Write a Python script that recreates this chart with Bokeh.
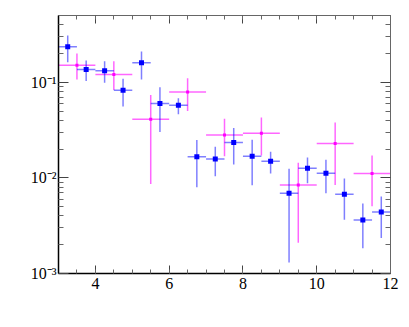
from bokeh.plotting import figure
from bokeh.models import (LogAxis, LinearAxis, SingleIntervalTicker, FixedTicker,
                          ColumnDataSource, Range1d)
from bokeh.embed import file_html
from bokeh.resources import INLINE

# Blue series (x half-width 0.25)
blue_x = [3.25, 3.75, 4.25, 4.75, 5.25, 5.75, 6.25, 6.75, 7.25, 7.75, 8.25, 8.75,
          9.25, 9.75, 10.25, 10.75, 11.25, 11.75]
blue_y = [0.235, 0.136, 0.132, 0.0826, 0.160, 0.0599, 0.0575, 0.0166, 0.0158, 0.0235,
          0.0168, 0.0149, 0.00692, 0.0126, 0.0112, 0.00675, 0.00363, 0.00439]
blue_hi = [0.309, 0.169, 0.166, 0.109, 0.210, 0.0887, 0.068, 0.0249, 0.0212, 0.0332,
           0.0251, 0.0188, 0.0125, 0.0163, 0.0155, 0.00984, 0.0054, 0.00638]
blue_lo = [0.162, 0.103, 0.099, 0.0557, 0.107, 0.0303, 0.0464, 0.00798, 0.0104, 0.0138,
           0.00838, 0.0111, 0.0013, 0.00879, 0.00692, 0.00365, 0.00184, 0.00235]
blue_xerr = 0.25

# Magenta series (x half-width 0.5)
mag_x = [3.5, 4.5, 5.5, 6.5, 7.5, 8.5, 9.5, 10.5, 11.5]
mag_y = [0.151, 0.121, 0.0412, 0.0792, 0.0281, 0.0294, 0.00845, 0.0229, 0.0111]
mag_hi = [0.200, 0.166, 0.0738, 0.110, 0.0415, 0.0428, 0.01445, 0.0379, 0.0172]
mag_lo = [0.107, 0.0832, 0.00866, 0.0502, 0.0168, 0.0172, 0.0021, 0.00845, 0.00506]
mag_xerr = 0.5

x_ticks = [4, 6, 8, 10, 12]
y_ticks = [0.001, 0.01, 0.1]
y_tick_labels = {0.001: "10\u207b\u00b3", 0.01: "10\u207b\u00b2", 0.1: "10\u207b\u00b9"}

FONT = "Times New Roman"

p = figure(width=401, height=319, output_backend="svg", toolbar_location=None,
           y_axis_type="log", x_range=Range1d(3, 12), y_range=Range1d(0.001, 0.5),
           min_border_left=58, min_border_right=11, min_border_top=15, min_border_bottom=46)
p.background_fill_color = "white"
p.border_fill_color = "white"
p.outline_line_color = "#555555"
p.xgrid.visible = False
p.ygrid.visible = False

def style_axis(ax, labels=True, major=10, minor=5):
    ax.major_tick_in = major
    ax.major_tick_out = 0
    ax.minor_tick_in = minor
    ax.minor_tick_out = 0
    ax.axis_line_color = "black"
    ax.major_tick_line_color = "#444444"
    ax.minor_tick_line_color = "#666666"
    ax.major_label_text_font = FONT
    ax.major_label_text_font_size = "16px"
    ax.major_label_text_color = "black"
    if not labels:
        ax.major_label_text_font_size = "0px"
        ax.major_label_text_alpha = 0
        ax.major_label_standoff = 0
        ax.axis_line_color = "#666666"

minor_y = [m * d for d in [0.001, 0.01, 0.1] for m in range(2, 10) if m * d <= 0.5]

p.xaxis.ticker = SingleIntervalTicker(interval=2, num_minor_ticks=4)
style_axis(p.xaxis[0], major=8, minor=4)
p.xaxis[0].axis_line_width = 1.5
p.xaxis[0].major_label_standoff = 4

p.yaxis.ticker = FixedTicker(ticks=y_ticks, minor_ticks=minor_y)
p.yaxis.major_label_overrides = y_tick_labels
style_axis(p.yaxis[0], major=10, minor=5)
p.yaxis[0].axis_line_width = 1.5
p.yaxis[0].major_label_standoff = 2

top = LinearAxis(ticker=SingleIntervalTicker(interval=2, num_minor_ticks=4))
style_axis(top, labels=False, major=8, minor=4)
p.add_layout(top, "above")

right = LogAxis(ticker=FixedTicker(ticks=y_ticks, minor_ticks=minor_y))
style_axis(right, labels=False, major=10, minor=5)
p.add_layout(right, "right")

bsrc = ColumnDataSource(dict(x=blue_x, y=blue_y, hi=blue_hi, lo=blue_lo,
                             x0=[v - blue_xerr for v in blue_x], x1=[v + blue_xerr for v in blue_x]))
msrc = ColumnDataSource(dict(x=mag_x, y=mag_y, hi=mag_hi, lo=mag_lo,
                             x0=[v - mag_xerr for v in mag_x], x1=[v + mag_xerr for v in mag_x]))

# magenta
p.segment(x0="x0", y0="y", x1="x1", y1="y", source=msrc, line_color="#ff00ff", line_alpha=0.6, line_width=1.5)
p.segment(x0="x", y0="lo", x1="x", y1="hi", source=msrc, line_color="#ff00ff", line_alpha=0.6, line_width=1.5)
p.scatter(x="x", y="y", source=msrc, marker="square", size=3, fill_color="#ff00ff", line_color="#ff00ff", line_width=0)

# blue
p.segment(x0="x0", y0="y", x1="x1", y1="y", source=bsrc, line_color="#0000ff", line_alpha=0.5, line_width=1.5)
p.segment(x0="x", y0="lo", x1="x", y1="hi", source=bsrc, line_color="#0000ff", line_alpha=0.5, line_width=1.5)
p.scatter(x="x", y="y", source=bsrc, marker="square", size=5, fill_color="#0000ff", line_color="#0000ff", line_width=0)

open("out.html", "w").write(file_html(p, INLINE))
